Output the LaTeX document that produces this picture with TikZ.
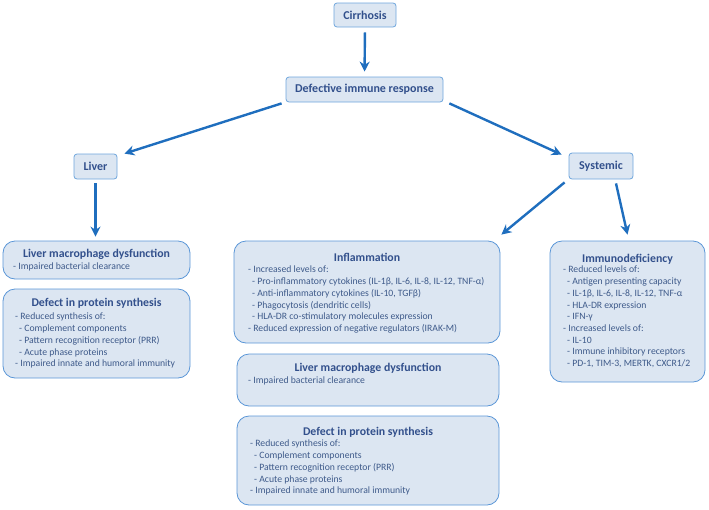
\documentclass[tikz,border=0pt]{standalone}
\usepackage{fontspec}
\setmainfont{Carlito}
\usepackage{xcolor}
\usetikzlibrary{calc, positioning, arrows.meta}

\begin{document}
\begin{tikzpicture}[x=1pt, y=-1pt]
    \tikzset{
      stage/.style={
        rectangle, rounded corners=3pt, draw, thick, inner sep=0pt,
        fill={rgb,255:red,220;green,230;blue,242},
        draw={rgb,255:red,110;green,165;blue,220},
        font=\fontsize{12}{14}\selectfont\bfseries,
        text={rgb,255:red,50;green,80;blue,140},
      },
      panel/.style={
        rectangle, rounded corners=12pt, draw, thick, inner sep=0pt,
        fill={rgb,255:red,220;green,230;blue,242},
        draw={rgb,255:red,90;green,150;blue,215},
      },
      heading/.style={
        anchor=base, inner sep=0pt,
        font=\fontsize{11.8}{13}\selectfont\bfseries,
        text={rgb,255:red,50;green,80;blue,140},
      },
      entries/.style={
        anchor=north west, align=left, inner sep=0pt,
        font=\fontsize{9.7}{11.7}\selectfont,
        text={rgb,255:red,62;green,90;blue,138},
      },
      link/.style={
        -{Stealth[length=10pt, width=10pt]}, draw, line width=2.4pt,
        draw={rgb,255:red,31;green,110;blue,190},
      },
    }
    \newcommand{\sub}{\hspace*{4pt}- }

    \useasboundingbox (0,0) rectangle (709,509);

    % top of the tree
    \node[stage, minimum width=62pt, minimum height=24pt] (cirrhosis) at (365,15) {Cirrhosis};
    \node[stage, minimum width=157pt, minimum height=25pt] (response) at (364.5,89.5) {Defective immune response};
    \draw[link, shorten <=5pt, shorten >=5pt] (cirrhosis.south) -- (response.north);

    \node[stage, minimum width=43pt, minimum height=25pt] (liver) at (95.5,166.5) {Liver};
    \node[stage, minimum width=64pt, minimum height=26pt] (systemic) at (601,166) {Systemic};
    \draw[link] ([shift={(-4,1)}]response.south west) -- ([shift={(7,0)}]liver.north east);
    \draw[link] ([shift={(6,1)}]response.south east) -- ([shift={(-7,2)}]systemic.north west);

    % liver side
    \node[panel, minimum width=187pt, minimum height=38pt] (lmdleft) at (96.5,260) {};
    \node[heading] (lmdlefttitle) at ($(lmdleft.north)+(0,17)$) {Liver macrophage dysfunction};
    \node[entries] (lmdlefttext) at (13,263) {- Impaired bacterial clearance};
    \draw[link, shorten <=4pt, shorten >=4pt] (liver.south) -- (liver.south |- lmdleft.north);

    \node[panel, minimum width=187pt, minimum height=89pt] (dpsleft) at (96.5,333.5) {};
    \node[heading] (dpslefttitle) at ($(dpsleft.north)+(0,18)$) {Defect in protein synthesis};
    \node[entries] (dpslefttext) at (15,313) {- Reduced synthesis of:\\
      \sub Complement components\\
      \sub Pattern recognition receptor (PRR)\\
      \sub Acute phase proteins\\
      - Impaired innate and humoral immunity};

    % systemic side
    \node[panel, minimum width=266pt, minimum height=102pt] (inflam) at (367,292) {};
    \node[heading] (inflamtitle) at ($(inflam.north)+(0,21)$) {Inflammation};
    \node[entries] (inflamtext) at (248,266) {- Increased levels of:\\
      \sub Pro-inflammatory cytokines (IL-1β, IL-6, IL-8, IL-12, TNF-α)\\
      \sub Anti-inflammatory cytokines (IL-10, TGFβ)\\
      \sub Phagocytosis (dendritic cells)\\
      \sub HLA-DR co-stimulatory molecules expression\\
      - Reduced expression of negative regulators (IRAK-M)};
    \draw[link] ([shift={(-4,3)}]systemic.south west) -- ([shift={(1,-6)}]inflam.north east);

    \node[panel, minimum width=262pt, minimum height=52pt] (lmdmid) at (368,380) {};
    \node[heading] (lmdmidtitle) at ($(lmdmid.north)+(0,18)$) {Liver macrophage dysfunction};
    \node[entries] (lmdmidtext) at (248,377) {- Impaired bacterial clearance};

    \node[panel, minimum width=262pt, minimum height=89pt] (dpsmid) at (368,460.5) {};
    \node[heading] (dpsmidtitle) at ($(dpsmid.north)+(0,20)$) {Defect in protein synthesis};
    \node[entries] (dpsmidtext) at (250,440) {- Reduced synthesis of:\\
      \sub Complement components\\
      \sub Pattern recognition receptor (PRR)\\
      \sub Acute phase proteins\\
      - Impaired innate and humoral immunity};

    \node[panel, minimum width=155pt, minimum height=141pt] (immuno) at (627.5,311.5) {};
    \node[heading] (immunotitle) at ($(immuno.north)+(0,22)$) {Immunodeficiency};
    \node[entries] (immunotext) at (563,266) {- Reduced levels of:\\
      \sub Antigen presenting capacity\\
      \sub IL-1β, IL-6, IL-8, IL-12, TNF-α\\
      \sub HLA-DR expression\\
      \sub IFN-γ\\
      - Increased levels of:\\
      \sub IL-10\\
      \sub Immune inhibitory receptors\\
      \sub PD-1, TIM-3, MERTK, CXCR1/2};
    \draw[link] ([shift={(15,4)}]systemic.south) -- ([shift={(0,-6)}]immuno.north);
\end{tikzpicture}
\end{document}
